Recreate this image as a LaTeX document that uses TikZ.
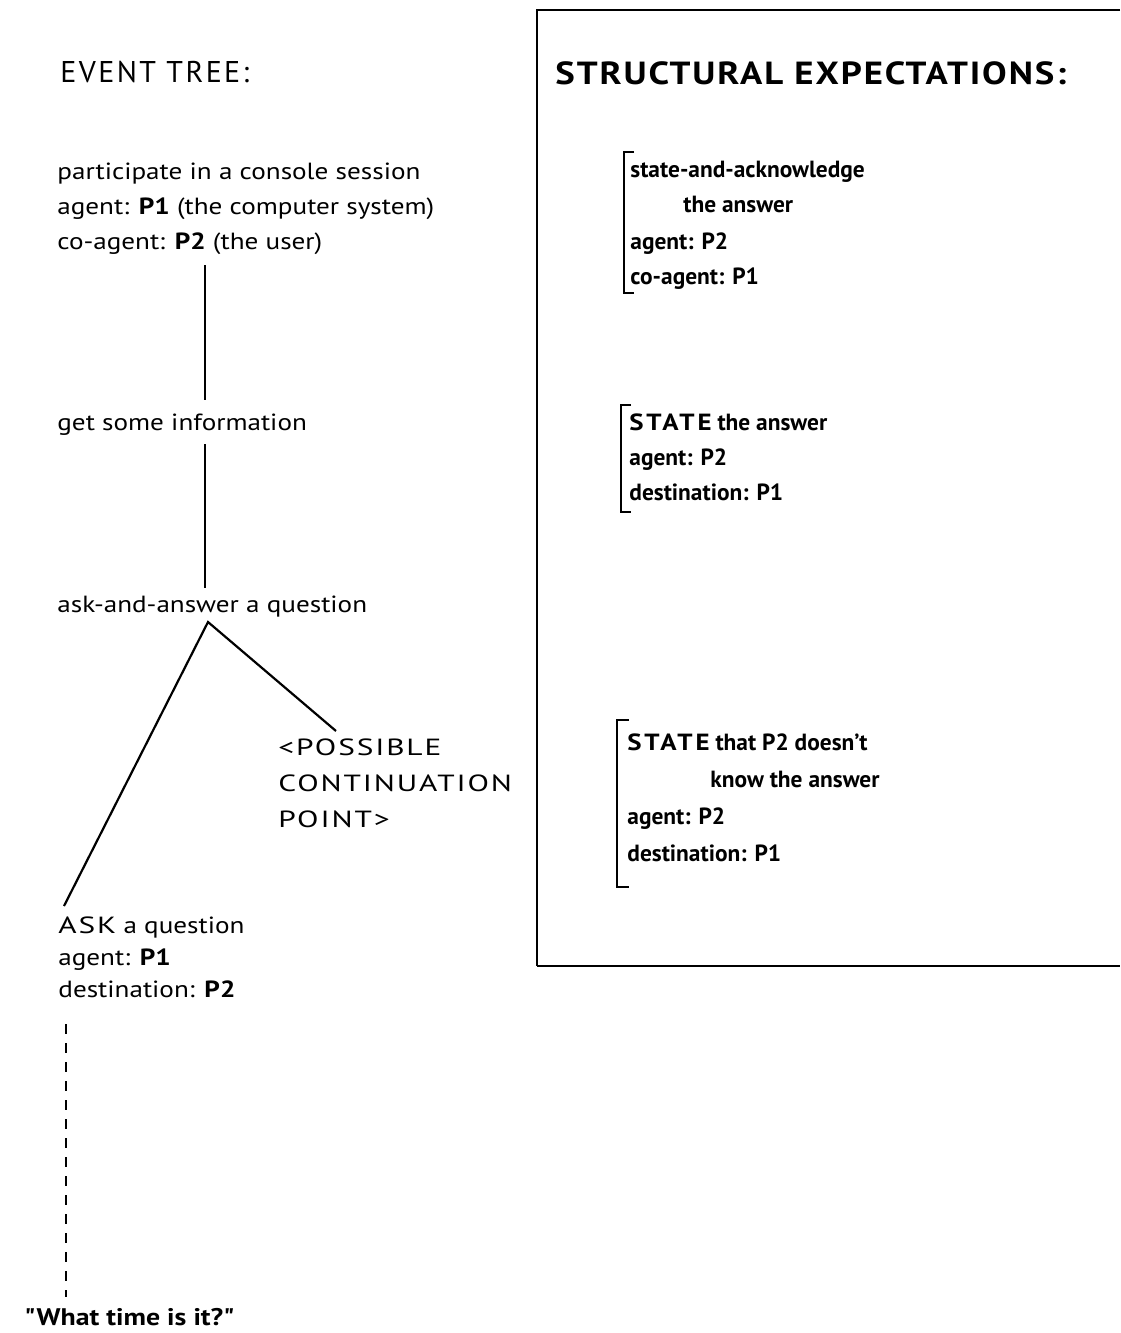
\documentclass[tikz,border=0pt]{standalone}
\usepackage{fontspec}
\setmainfont{PT Sans}
\newfontfamily\treefont[FakeStretch=1.16]{PT Sans}
\newfontfamily\capsfont[FakeStretch=1.34,LetterSpace=8]{PT Sans}
\newfontfamily\statefont[FakeStretch=1.15,LetterSpace=12]{PT Sans}
\newfontfamily\hdfont[LetterSpace=8]{PT Sans}
\newfontfamily\hdbfont[FakeStretch=1.15,LetterSpace=6]{PT Sans}
\newcommand\tcaps[1]{{\capsfont #1}}
\newcommand\scaps[1]{{\statefont #1}}

\begin{document}
\begin{tikzpicture}[x=0.5pt,y=-0.5pt,
    lt/.style={anchor=base west,inner sep=0pt,font=\fontsize{11.7}{14}\selectfont\treefont},
    bt/.style={anchor=base west,inner sep=0pt,font=\fontsize{11.7}{14}\selectfont\bfseries},
    hd/.style={anchor=base west,inner sep=0pt,font=\fontsize{15}{18}\selectfont\hdfont},
    tline/.style={line width=1.1pt},
    brk/.style={line width=1pt},
    frame/.style={line width=0.9pt}]
  \useasboundingbox (0,0) rectangle (1120,1333);
  % event tree
  \node[hd]     (hdtree)     at (60,82)    {EVENT TREE:};
  \node[lt]     (root1)      at (57,179)   {participate in a console session};
  \node[lt]     (root2)      at (57,214)   {agent: \textbf{P1} (the computer system)};
  \node[lt]     (root3)      at (57,249)   {co-agent: \textbf{P2} (the user)};
  \node[lt]     (getinfo)    at (57,430)   {get some information};
  \node[lt]     (askans)     at (57,612)   {ask-and-answer a question};
  \node[lt]     (poss1)      at (278,755)  {\tcaps{<POSSIBLE}};
  \node[lt]     (poss2)      at (278,791)  {\tcaps{CONTINUATION}};
  \node[lt]     (poss3)      at (278,827)  {\tcaps{POINT>}};
  \node[lt]     (ask1)       at (58,933)   {\tcaps{ASK} a question};
  \node[lt]     (ask2)       at (58,965)   {agent: \textbf{P1}};
  \node[lt]     (ask3)       at (58,997)   {destination: \textbf{P2}};
  \node[lt,font=\fontsize{12}{14}\selectfont\treefont\bfseries]
                (what)       at (24,1325)  {\char34What time is it?\char34};
  \draw[tline] ([shift={(148,16)}]root3.base west) -- ([shift={(148,-30)}]getinfo.base west);
  \draw[tline] ([shift={(148,14)}]getinfo.base west) -- ([shift={(148,-24)}]askans.base west);
  \draw[tline] ([shift={(58,-24)}]poss1.base west) -- ([shift={(151,10)}]askans.base west)
               -- ([shift={(6,-27)}]ask1.base west);
  \draw[tline,dash pattern=on 5pt off 4.5pt,line width=1pt]
               ([shift={(8,27)}]ask3.base west) -- ([shift={(42,-28)}]what.base west);
  % structural expectations
  \draw[frame] (1120,10) -- (537,10) -- (537,966);
  \draw[frame,line width=1.4pt] (537,966) -- (1120,966);
  \node[hd,font=\fontsize{16}{19}\selectfont\hdbfont\bfseries]
                (hdexp)      at (555,84)   {STRUCTURAL EXPECTATIONS:};
  \node[bt]     (xa1)        at (630,177)  {state-and-acknowledge};
  \node[bt]     (xa2)        at (683,212)  {the answer};
  \node[bt]     (xa3)        at (630,249)  {agent: P2};
  \node[bt]     (xa4)        at (630,284)  {co-agent: P1};
  \node[bt]     (xb1)        at (629,430)  {\scaps{STATE} the answer};
  \node[bt]     (xb2)        at (629,465)  {agent: P2};
  \node[bt]     (xb3)        at (629,500)  {destination: P1};
  \node[bt]     (xc1)        at (627,750)  {\scaps{STATE} that P2 doesn't};
  \node[bt]     (xc2)        at (710,787)  {know the answer};
  \node[bt]     (xc3)        at (627,824)  {agent: P2};
  \node[bt]     (xc4)        at (627,861)  {destination: P1};
  \draw[brk] ([shift={(4,-25)}]xa1.base west) -| ([shift={(-6,9)}]xa4.base west) -- ++(10,0);
  \draw[brk] ([shift={(2,-25)}]xb1.base west) -| ([shift={(-8,12)}]xb3.base west) -- ++(10,0);
  \draw[brk] ([shift={(2,-30)}]xc1.base west) -| ([shift={(-10,26)}]xc4.base west) -- ++(12,0);
\end{tikzpicture}
\end{document}
